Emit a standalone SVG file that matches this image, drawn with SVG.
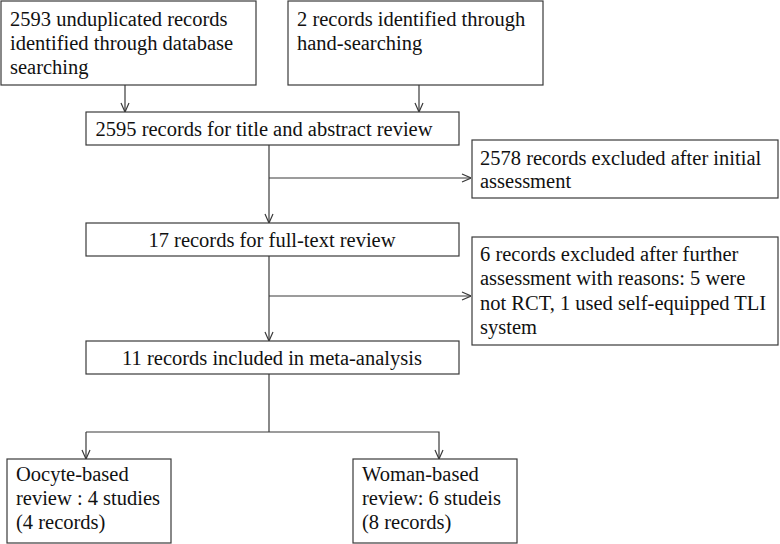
<svg xmlns="http://www.w3.org/2000/svg" width="780" height="544" viewBox="0 0 780 544">
<style>
rect{fill:#fff;stroke:#3a3a3a;stroke-width:1.2}
text{font-family:"Liberation Serif","Times New Roman",serif;font-size:20.5px;fill:#111}
.c{text-anchor:middle}
#connectors path{fill:none;stroke:#3a3a3a;stroke-width:1.2}
</style>
<defs>
<marker id="ah" viewBox="0 0 10 10" refX="10" refY="5" markerWidth="10" markerHeight="10" markerUnits="userSpaceOnUse" orient="auto">
<path d="M1,1 L10,5 L1,9" fill="none" stroke="#3a3a3a" stroke-width="1.2"/>
</marker>
</defs>
<g id="connectors">
<path d="M125,85 V112" marker-end="url(#ah)"/>
<path d="M419,85 V112" marker-end="url(#ah)"/>
<path d="M269,145 V223" marker-end="url(#ah)"/>
<path d="M269,178 H471" marker-end="url(#ah)"/>
<path d="M269,256 V341" marker-end="url(#ah)"/>
<path d="M269,296 H471" marker-end="url(#ah)"/>
<path d="M269,374 V432"/>
<path d="M86,432 H439 V459" marker-end="url(#ah)"/>
<path d="M86,432 V459" marker-end="url(#ah)"/>
</g>
<g id="n1"><rect x="1" y="1" width="255" height="84"/>
<text x="10" y="26">2593 unduplicated records</text>
<text x="10" y="50">identified through database</text>
<text x="10" y="74">searching</text></g>
<g id="n2"><rect x="288" y="1" width="255" height="84"/>
<text x="297" y="26">2 records identified through</text>
<text x="297" y="50">hand-searching</text></g>
<g id="n3"><rect x="86" y="112" width="373" height="33"/>
<text class="c" x="264" y="136">2595 records for title and abstract review</text></g>
<g id="n4"><rect x="472" y="140" width="306" height="58"/>
<text x="480" y="165">2578 records excluded after initial</text>
<text x="480" y="188">assessment</text></g>
<g id="n5"><rect x="86" y="223" width="373" height="33"/>
<text class="c" x="272" y="247">17 records for full-text review</text></g>
<g id="n6"><rect x="472" y="237" width="306" height="108"/>
<text x="480" y="261">6 records excluded after further</text>
<text x="480" y="285">assessment with reasons: 5 were</text>
<text x="480" y="310">not RCT, 1 used self-equipped TLI</text>
<text x="480" y="334">system</text></g>
<g id="n7"><rect x="86" y="341" width="373" height="33"/>
<text class="c" x="272" y="365">11 records included in meta-analysis</text></g>
<g id="n8"><rect x="7" y="459" width="164" height="84"/>
<text x="16" y="481">Oocyte-based</text>
<text x="16" y="505">review : 4 studies</text>
<text x="16" y="529">(4 records)</text></g>
<g id="n9"><rect x="353" y="459" width="164" height="84"/>
<text x="362" y="481">Woman-based</text>
<text x="362" y="505">review: 6 studeis</text>
<text x="362" y="529">(8 records)</text></g>
</svg>
